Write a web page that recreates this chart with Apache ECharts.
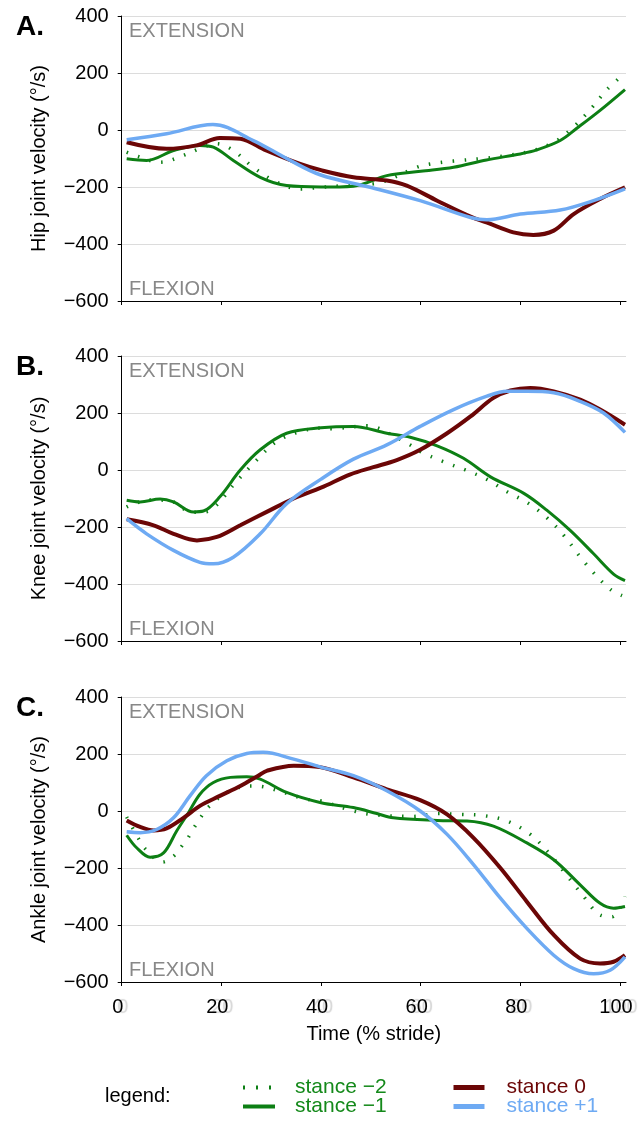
<!DOCTYPE html>
<html><head><meta charset="utf-8">
<script src="https://cdn.jsdelivr.net/npm/echarts@6/dist/echarts.min.js"></script>
<style>html,body{margin:0;padding:0;background:#fff}#c{width:641px;height:1123px}</style>
</head><body><div id="c"></div>
<script>
const FONT = "'Liberation Sans', Arial, Helvetica, sans-serif";
const panelLetters = ['A.', 'B.', 'C.'];
const yNames = ['Hip joint velocity (°/s)', 'Knee joint velocity (°/s)', 'Ankle joint velocity (°/s)'];
const seriesNames = ['stance \u22122', 'stance \u22121', 'stance 0', 'stance +1'];
const xTickValues = [0, 20, 40, 60, 80, 100];
const yRange = [-600, 400];
const yStep = 200;

// Hip (panel A): [time %, velocity °/s]
const hipM2 = [[1,-78],[3.3,-93],[7.7,-113],[12.4,-89],[16.4,-60],[19,-48],[22.4,-72],[26.4,-131],[31.1,-183],[35.8,-207],[40,-201],[45,-195],[50.5,-189],[53.2,-177],[59.2,-131],[62,-119],[66.6,-109],[73.2,-99],[76,-93],[82.6,-72],[87.3,-37],[91,16],[94.4,79],[97.4,142],[101,200]];
const hipM1 = [[1,-101],[5,-107],[10.4,-72],[15.7,-54],[18.4,-60],[22.4,-107],[27.8,-166],[33.1,-195],[40,-200],[46.5,-197],[53.2,-160],[60,-145],[66.6,-131],[73.2,-105],[80,-84],[83.3,-70],[88,-37],[91.4,7],[96,69],[101,142]];
const hip0 = [[1,-43],[9,-66],[15,-54],[19.7,-28],[23.8,-31],[29,-72],[35.8,-119],[40,-141],[46.5,-166],[53.2,-177],[57.2,-195],[63.3,-248],[70,-304],[73.2,-324],[78.6,-359],[82.6,-368],[86.7,-353],[90.7,-295],[96,-242],[101,-201]];
const hipP1 = [[1,-34],[9,-13],[18.3,19],[26.4,-37],[33.1,-100],[39.8,-157],[49.9,-201],[59.9,-248],[70,-307],[73.3,-315],[80,-295],[88,-281],[94.7,-248],[101,-207]];

// Knee (panel B)
const kneeM2 = [[1,-130],[3,-115],[6,-105],[10,-110],[14,-148],[16.7,-147],[19,-124],[22.4,-53],[27.1,35],[31.1,100],[35.8,135],[40,147],[42,145],[49.2,155],[51.5,147],[54,125],[57.9,88],[59.9,65],[64.6,29],[69,0],[73.3,-33],[77.3,-76],[81.7,-118],[85.3,-167],[88.7,-229],[91.7,-298],[94.7,-361],[98,-418],[100.4,-441]];
const kneeM1 = [[1,-106],[3.7,-112],[7.7,-102],[10.4,-112],[14.4,-147],[16.4,-144],[19.7,-94],[23.8,0],[27.8,71],[33.1,129],[40,148],[46.5,153],[53.2,129],[57.9,115],[63.3,85],[68.6,41],[74,-24],[80.7,-82],[85.3,-141],[90,-212],[94.7,-294],[98.7,-365],[101,-388]];
const knee0 = [[1,-173],[6.4,-194],[10.4,-224],[15.1,-247],[19.1,-235],[23.8,-194],[29.1,-147],[34.5,-100],[40,-62],[45.9,-15],[50.5,10],[55.2,35],[59.9,71],[65.3,129],[70,188],[74.6,253],[78,279],[82,288],[86.7,276],[92,247],[96,212],[101,159]];
const kneeP1 = [[1,-171],[5,-224],[10.4,-282],[15.7,-324],[18.4,-329],[22.4,-306],[27.8,-224],[33.1,-118],[40,-32],[46.5,38],[53.2,88],[59.9,153],[66.6,212],[73.3,259],[77.3,276],[81.3,276],[86.7,271],[92,241],[96.7,200],[101,132]];

// Ankle (panel C)
const ankleM2 = [[1,-21],[3.3,-94],[4.7,-132],[8.2,-179],[10.4,-159],[11.8,-129],[13.3,-94],[14.5,-59],[15.9,-21],[17.3,12],[21.1,65],[25.6,88],[28.4,85],[32.5,65],[37.1,41],[40,35],[46.5,0],[51.2,-14],[58.6,-19],[63.3,-9],[68,-12],[72.6,-16],[77.3,-35],[82,-82],[85.4,-141],[88.7,-212],[92.7,-300],[96,-365],[98.4,-371],[101,-300]];
const ankleM1 = [[1,-85],[3,-129],[5.7,-162],[8.4,-147],[11,-71],[13.4,-6],[15.7,59],[18.4,100],[21.8,118],[25.1,120],[27.8,112],[33.1,65],[40,29],[46.5,12],[51.2,-9],[54.5,-24],[63.3,-33],[69.3,-35],[74.6,-53],[81.3,-112],[86.7,-171],[92,-259],[96,-324],[98.7,-341],[101,-335]];
const ankle0 = [[1,-33],[3.7,-56],[6.4,-68],[9,-61],[12.4,-24],[15.7,18],[19.7,53],[23.8,88],[27.4,124],[29.1,141],[34.5,159],[39.8,154],[46.5,118],[53.2,76],[59.9,38],[65.3,-12],[70.6,-94],[76,-200],[81.3,-318],[86.7,-435],[92,-518],[96,-535],[98.7,-529],[101,-506]];
const ankleP1 = [[1,-73],[3.7,-76],[7,-65],[10.4,-24],[13.7,53],[17,124],[21.1,176],[25.1,202],[28.4,206],[34.5,182],[39.8,155],[46.5,124],[53.2,71],[59.9,0],[65.3,-82],[70.6,-188],[76,-306],[81.3,-412],[86.7,-506],[90.7,-553],[94.7,-571],[98,-559],[101,-512]];

const panelData = [[hipM2, hipM1, hip0, hipP1], [kneeM2, kneeM1, knee0, kneeP1], [ankleM2, ankleM1, ankle0, ankleP1]];

const colors = ['#0d7f14', '#0d7f14', '#6b0606', '#6eaaf3'];
const widths = [3.5, 3, 4, 3.5];
const legendTextColors = ['#14891a', '#14891a', '#6b0606', '#6eaaf3'];

const gridTops = [16, 356, 697];
const gridH = 285;
const minus = v => String(v).replace('-', '\u2212');

const grids = [], xAxes = [], yAxes = [], series = [], titles = [], graphics = [];
for (let p = 0; p < 3; p++) {
  grids.push({ left: 121.7, right: 15, top: gridTops[p], height: gridH, containLabel: false });
  xAxes.push({
    gridIndex: p, type: 'value', min: 0, max: 101.2,
    name: p === 2 ? 'Time (% stride)' : '', nameLocation: 'middle', nameGap: 42,
    nameTextStyle: { fontFamily: FONT, fontSize: 20, color: '#000' },
    axisLine: { show: true, onZero: false, lineStyle: { color: '#000', width: 1 } },
    axisTick: { show: true, length: 4, lineStyle: { color: '#000' }, customValues: xTickValues },
    splitLine: { show: false },
    axisLabel: {
      show: p === 2, customValues: xTickValues, fontFamily: FONT, fontSize: 20, color: '#000', margin: 15,
      padding: [0, 8, 0, 0], textShadowColor: '#d4d4d4', textShadowOffsetX: 5, textShadowBlur: 1
    }
  });
  yAxes.push({
    gridIndex: p, type: 'value', min: yRange[0], max: yRange[1], interval: yStep,
    name: yNames[p], nameLocation: 'middle', nameGap: 72,
    nameTextStyle: { fontFamily: FONT, fontSize: 20, color: '#000' },
    axisLine: { show: true, onZero: false, lineStyle: { color: '#000', width: 1 } },
    axisTick: { show: true, length: 4, lineStyle: { color: '#000' } },
    splitLine: { show: true, lineStyle: { color: '#dcdcdc', width: 1 } },
    axisLabel: { fontFamily: FONT, fontSize: 20, color: '#000', margin: 13, formatter: minus }
  });
  for (let s = 0; s < 4; s++) {
    series.push({
      name: seriesNames[s], type: 'line', xAxisIndex: p, yAxisIndex: p,
      data: panelData[p][s], smooth: 0.35, symbol: 'none', z: 2 + s,
      lineStyle: {
        color: colors[s], width: widths[s],
        type: s === 0 ? [1.5, 10.5] : 'solid', cap: 'butt'
      },
      itemStyle: { color: colors[s] }
    });
  }
  titles.push({ text: panelLetters[p], left: 11, top: gridTops[p] - 8,
    textStyle: { fontFamily: FONT, fontSize: 28, fontWeight: 'bold', color: '#000' } });
  graphics.push({ type: 'text', left: 129, top: gridTops[p] + 5,
    style: { text: 'EXTENSION', fontFamily: FONT, fontSize: 20, fill: '#888' } });
  graphics.push({ type: 'text', left: 129, top: gridTops[p] + 263,
    style: { text: 'FLEXION', fontFamily: FONT, fontSize: 20, fill: '#888' } });
}
graphics.push({ type: 'text', left: 105, top: 1086,
  style: { text: 'legend:', fontFamily: FONT, fontSize: 20, fill: '#000' } });

// one legend per entry, placed as in the reference's two-column key
const legendSlots = [
  { left: 241, top: 1077, w: 28, lw: 4, pad: 19 },
  { left: 241, top: 1096, w: 32, lw: 4, pad: 15 },
  { left: 451, top: 1077, w: 31, lw: 5, pad: 17 },
  { left: 451, top: 1096, w: 31, lw: 5, pad: 17 }
];
const legends = legendSlots.map((slot, i) => ({
  orient: 'horizontal', left: slot.left, top: slot.top, padding: 0,
  itemWidth: slot.w, itemHeight: 14, selectedMode: false,
  textStyle: { fontFamily: FONT, fontSize: 21, lineHeight: 20, color: legendTextColors[i], padding: [0, 0, 0, slot.pad] },
  data: [{
    name: seriesNames[i],
    itemStyle: { opacity: 0 },
    lineStyle: { width: slot.lw, color: colors[i], type: i === 0 ? [2, 11] : 'solid', cap: 'butt' }
  }]
}));

const option = {
  backgroundColor: '#fff',
  animation: false,
  title: titles,
  grid: grids, xAxis: xAxes, yAxis: yAxes, series: series,
  legend: legends,
  graphic: graphics
};
const chart = echarts.init(document.getElementById('c'), null, { renderer: 'canvas' });
chart.setOption(option);
</script></body></html>
